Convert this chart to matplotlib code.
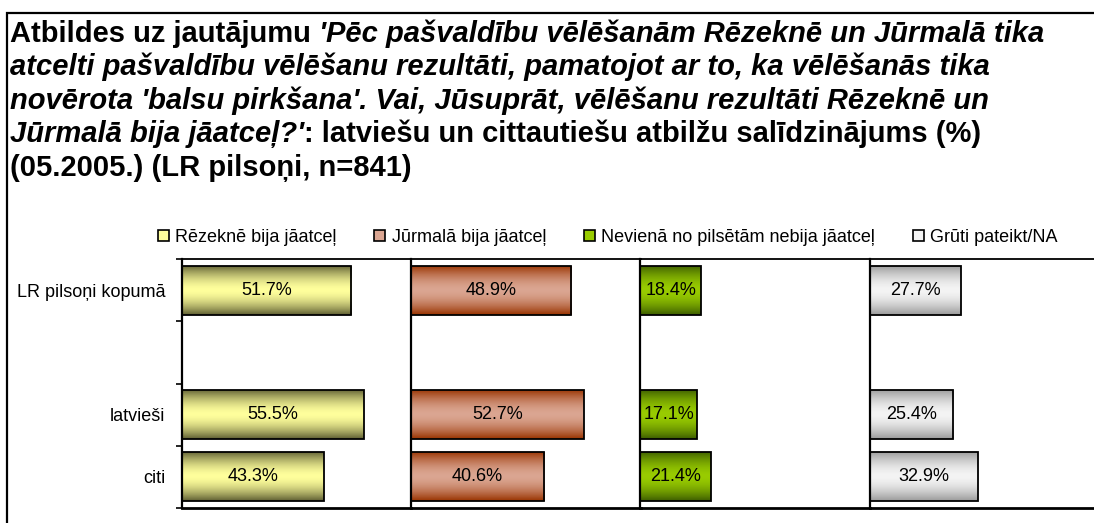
import numpy as np
import matplotlib
matplotlib.use("Agg")
import matplotlib.pyplot as plt
from matplotlib.patches import Patch, Rectangle

# ---------------- data ----------------
categories = ["LR pilsoņi kopumā", "latvieši", "citi"]
category_slots = [0, 2, 3]          # slot 1 is an empty gap row
series_names = ["Rēzeknē bija jāatceļ", "Jūrmalā bija jāatceļ",
                "Nevienā no pilsētām nebija jāatceļ", "Grūti pateikt/NA"]
rezekne = [51.7, 55.5, 43.3]
jurmala = [48.9, 52.7, 40.6]
neviena = [18.4, 17.1, 21.4]
gruti = [27.7, 25.4, 32.9]
series_values = [rezekne, jurmala, neviena, gruti]

# gradient colours: (centre, edge)
series_colors = [("#ffff9c", "#5f5f33"), ("#dba692", "#993300"),
                 ("#99cc00", "#3d5e00"), ("#f4f4f4", "#9a9a9a")]

W, H = 1094, 523
plt.rcParams['font.family'] = ['Liberation Sans', 'DejaVu Sans']
fig = plt.figure(figsize=(W / 100, H / 100), dpi=100)

def fx(px):
    return px / W

def fy(py):
    return 1 - py / H

# outer frame
fig.add_artist(Rectangle((fx(7), -0.2), 1.5, fy(13) + 0.2, transform=fig.transFigure,
                         fill=False, lw=1.6, edgecolor="black"))

# ---------------- title (mixed bold / bold italic) ----------------
title_lines = [
    [("Atbildes uz jautājumu", "normal"), (" 'Pēc pašvaldību vēlēšanām Rēzeknē un Jūrmalā tika", "italic")],
    [("atcelti pašvaldību vēlēšanu rezultāti, pamatojot ar to, ka vēlēšanās tika", "italic")],
    [("novērota 'balsu pirkšana'. Vai, Jūsuprāt, vēlēšanu rezultāti Rēzeknē un", "italic")],
    [("Jūrmalā bija jāatceļ?'", "italic"), (": latviešu un cittautiešu atbilžu salīdzinājums (%)", "normal")],
    [("(05.2005.) (LR pilsoņi, n=841)", "normal")],
]
title_fs = 21
renderer = fig.canvas.get_renderer()
base_y = 41.5
for i, line in enumerate(title_lines):
    x = 10
    y = base_y + i * 33.6
    for txt, style in line:
        t = fig.text(fx(x), fy(y), txt, fontsize=title_fs, fontweight="bold",
                     fontstyle=style, ha="left", va="baseline")
        x += t.get_window_extent(renderer).width

# ---------------- panels ----------------
left0, panel_w = 181.7, 229.4
top_px, bot_px = 259, 508
n_slots = 4
bar_h = 0.79

def gradient(center, edge, n=80):
    c = np.array(matplotlib.colors.to_rgb(center))
    e = np.array(matplotlib.colors.to_rgb(edge))
    t = np.linspace(0, 1, n)
    d = np.abs(2 * t - 1)
    m = d ** 1.7
    return (c[None, :] * (1 - m[:, None]) + e[None, :] * m[:, None])[:, None, :]

label_fs = 13
axes = []
for k, (vals, (cc, ec)) in enumerate(zip(series_values, series_colors)):
    ax = fig.add_axes([fx(left0 + k * panel_w), fy(bot_px), panel_w / W, (bot_px - top_px) / H])
    ypos = [s + 0.5 for s in category_slots]
    bars = ax.barh(ypos, vals, height=bar_h, facecolor="none", edgecolor="black",
                   linewidth=1.3, zorder=3)
    grad = gradient(cc, ec)
    for b in bars:
        x0, y0 = b.get_x(), b.get_y()
        w, h = b.get_width(), b.get_height()
        im = ax.imshow(grad, extent=[x0, x0 + w, y0 + h, y0], aspect="auto",
                       interpolation="bilinear", zorder=2)
        im.set_clip_path(b)
    for v, yp in zip(vals, ypos):
        ax.text(v / 2, yp, f"{v}%", ha="center", va="center", fontsize=label_fs, zorder=4)
    ax.set_xlim(0, 70)
    ax.set_ylim(n_slots, 0)
    ax.set_facecolor("none")
    ax.spines["right"].set_visible(False)
    ax.spines["top"].set_linewidth(1.3)
    ax.spines["bottom"].set_linewidth(2.0)
    ax.spines["left"].set_linewidth(1.6)
    ax.set_xticks([])
    if k == 0:
        ax.set_yticks([s + 0.5 for s in category_slots])
        ax.set_yticklabels(categories, fontsize=label_fs)
        ax.tick_params(axis="y", which="major", length=0, pad=12)
        ax.set_yticks(np.arange(0, n_slots + 1), minor=True)
        ax.tick_params(axis="y", which="minor", length=4.5, width=1.2, direction="out")
    else:
        ax.set_yticks([])
    axes.append(ax)

# ---------------- legend ----------------
handles = [Patch(facecolor=cc, edgecolor="black", linewidth=1.2) for cc, ec in series_colors]
fig.legend(handles, series_names, loc="center left", bbox_to_anchor=(fx(158), fy(237.5)),
           ncol=4, frameon=False, fontsize=label_fs, handlelength=0.6, handleheight=0.6,
           handletextpad=0.35, columnspacing=2.1, borderaxespad=0, borderpad=0)

fig.savefig("out.png", dpi=100)
